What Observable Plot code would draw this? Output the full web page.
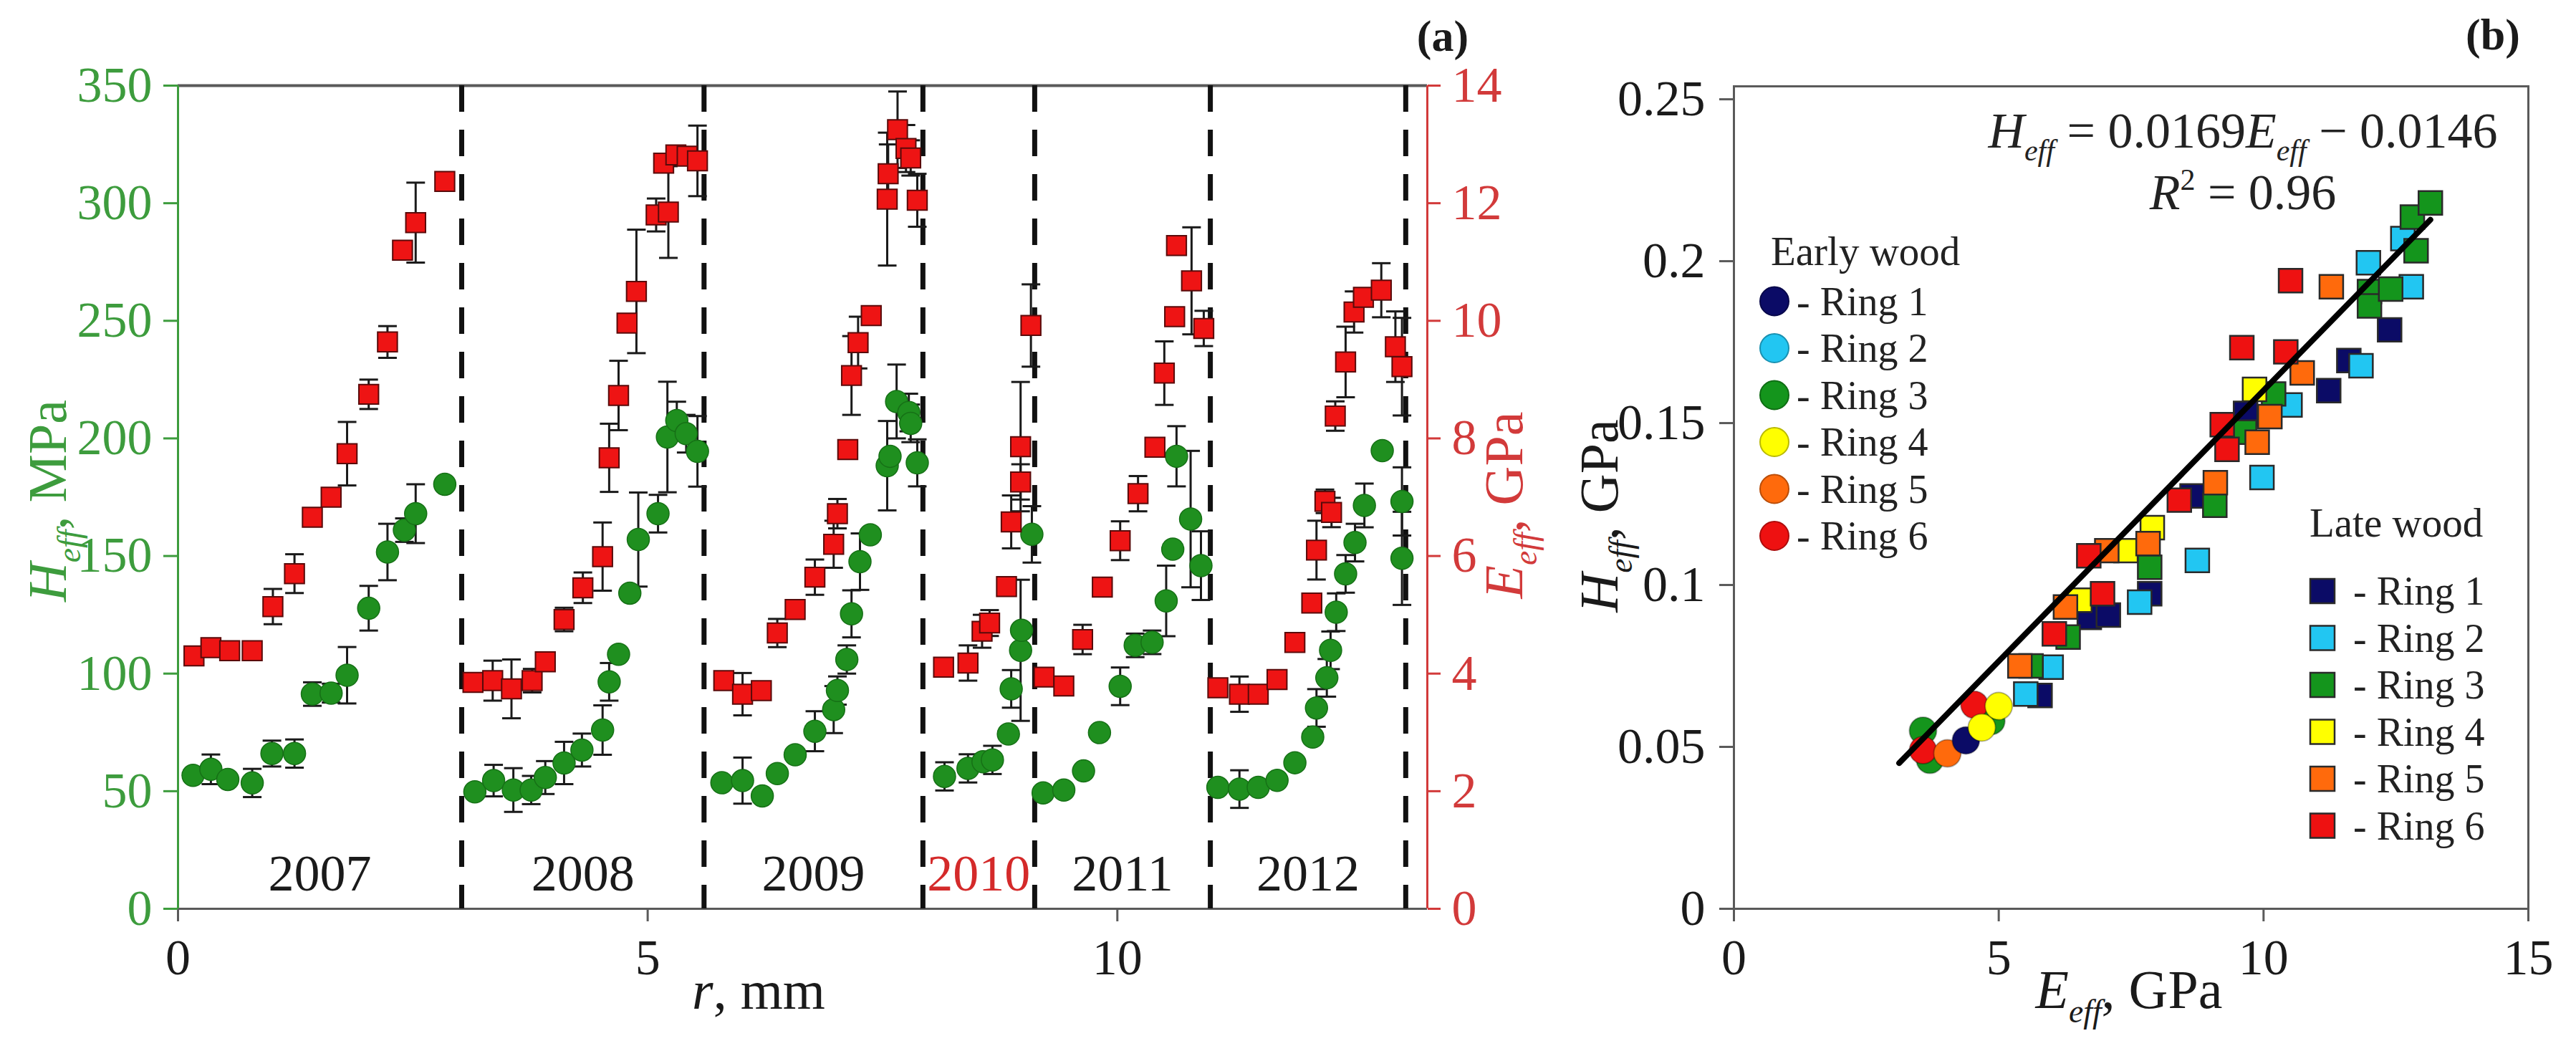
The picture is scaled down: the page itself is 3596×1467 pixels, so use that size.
<!DOCTYPE html>
<html><head><meta charset="utf-8">
<script src="https://cdn.jsdelivr.net/npm/d3@7"></script>
<script src="https://cdn.jsdelivr.net/npm/@observablehq/plot@0.6"></script>
<style>
html,body{margin:0;padding:0;background:#fff;}
#wrap{position:relative;width:3596px;height:1467px;overflow:hidden;background:#fff;}
</style></head><body><div id="wrap"></div>
<script>
// ---------------- Panel (a) data ----------------
// red squares: E_eff (GPa) vs r (mm)
const eR = [0.17,0.35,0.55,0.79,1.01,1.24,1.43,1.63,1.80,2.03,2.23,2.39,2.53,2.84,
 3.14,3.35,3.55,3.77,3.91,4.11,4.31,4.52,4.59,4.69,4.78,4.88,5.09,5.17,5.22,5.30,5.42,5.53,
 5.81,6.01,6.21,6.38,6.57,6.78,6.98,7.02,7.13,7.17,7.24,7.38,7.55,7.56,7.66,7.75,7.80,7.87,
 8.15,8.41,8.56,8.64,8.82,8.87,8.97,8.97,9.08,
 9.22,9.43,9.63,9.84,10.03,10.22,10.40,10.50,10.61,10.63,10.79,10.92,
 11.07,11.30,11.50,11.70,11.89,12.07,12.12,12.21,12.28,12.32,12.43,12.52,12.62,12.81,12.96,13.03];
const eVal = [4.30,4.44,4.39,4.39,5.14,5.70,6.66,7.00,7.74,8.75,9.64,11.20,11.67,12.37,
 3.85,3.88,3.74,3.88,4.20,4.92,5.46,5.99,7.67,8.73,9.96,10.50,11.80,12.68,11.85,12.82,12.80,12.72,
 3.88,3.65,3.71,4.69,5.09,5.64,6.20,6.72,7.81,9.07,9.63,10.09,12.07,12.50,13.25,12.93,12.77,12.05,
 4.11,4.18,4.72,4.86,5.48,6.58,7.26,7.86,9.92,
 3.94,3.79,4.58,5.47,6.26,7.06,7.85,9.11,10.07,11.28,10.68,9.87,
 3.76,3.65,3.65,3.90,4.53,5.20,6.10,6.93,6.74,8.38,9.30,10.15,10.40,10.52,9.56,9.22];
const eErr = [0,0,0,0,0.30,0.33,0,0,0.54,0.25,0.27,0,0.68,0,
 0,0.34,0.50,0.20,0,0.20,0.26,0.58,0.58,0.59,0,1.05,0.28,0,0.78,0,0,0.60,
 0,0.36,0,0.24,0,0.30,0.40,0.25,0,0.67,0.44,0,1.13,0.50,0.65,0.40,0.30,0.45,
 0,0.30,0.28,0.22,0,0.45,0.30,1.10,0.70,
 0,0,0.25,0,0.33,0.30,0,0.54,0,0,0.91,0.30,
 0,0.30,0,0,0,0,0.50,0.20,0.25,0.25,0.60,0.35,0,0.46,0.60,0.83];
// green circles: H_eff (MPa) vs r (mm)
const hR = [0.16,0.35,0.53,0.79,1.00,1.24,1.43,1.63,1.80,2.03,2.23,2.41,2.53,2.84,
 3.16,3.36,3.57,3.76,3.91,4.11,4.30,4.52,4.59,4.69,4.81,4.90,5.11,5.21,5.31,5.41,5.53,
 5.79,6.01,6.22,6.38,6.57,6.78,6.98,7.02,7.12,7.17,7.26,7.37,7.55,7.58,7.65,7.78,7.80,7.87,
 8.16,8.41,8.57,8.67,8.84,8.87,8.97,8.98,9.09,
 9.21,9.43,9.64,9.81,10.03,10.19,10.37,10.52,10.59,10.63,10.78,10.89,
 11.07,11.30,11.50,11.70,11.89,12.08,12.12,12.23,12.27,12.33,12.43,12.53,12.63,12.82,13.03,13.03];
const hVal = [56.7,59.3,55.0,53.5,66.0,66.0,91.3,91.7,99.3,127.8,151.7,161.0,168.0,180.5,
 49.7,54.5,50.5,50.5,55.8,62.0,67.5,76.0,96.5,108.2,134.2,157.0,168.0,200.6,207.6,202.0,194.5,
 53.6,54.5,48.0,57.5,65.5,75.5,84.7,92.8,106.0,125.4,147.6,159.0,188.4,192.4,215.7,211.0,206.4,189.6,
 56.3,59.7,62.5,63.3,74.3,93.5,109.9,118.4,159.2,
 49.3,50.5,58.6,74.9,94.6,112.0,113.3,130.9,152.9,192.4,165.7,145.9,
 51.6,50.9,51.6,54.6,62.1,73.0,85.4,98.2,109.9,126.1,142.4,155.7,171.5,194.8,173.2,149.0];
const hErr = [0,6.3,0,6,5.5,6,5,4,12,9.5,12,5,12.5,0,
 0,6.7,9.3,6,7,9,7,10.5,8,0,0,20,8,23.5,8,8,15,
 0,9.8,0,0,0,8.5,10,6,6,10,12,0,19,0,15.7,8,8,10,
 6,6,0,6,0,8,30,0,12,
 0,0,0,0,8,5,5,15,0,12.8,29,14.6,
 0,8,0,0,0,0,8,8,8,8,8,8,9.3,0,14.5,19.8];
const yearBounds = [0, 3.02, 5.60, 7.93, 9.12, 10.99, 13.07];
const years = ["2007","2008","2009","2010","2011","2012"];
const xDomainA = [0, 13.3];
const xTicksA = [0, 5, 10];
const hDomain = [0, 350];
const hTicks = [0, 50, 100, 150, 200, 250, 300, 350];
const eDomain = [0, 14];
const eTicks = [0, 2, 4, 6, 8, 10, 12, 14];

// ---------------- Panel (b) data ----------------
const rings = ["Ring 1","Ring 2","Ring 3","Ring 4","Ring 5","Ring 6"];
const ringColors = ["#0b0b66","#22c6f2","#14951c","#ffff00","#ff6a0c","#ee1111"];
// early wood (circles)
const earlyE = [3.70, 3.57, 3.57, 4.03, 4.38, 4.86, 4.54, 4.68, 5.00];
const earlyH = [0.046, 0.055, 0.049, 0.048, 0.052, 0.058, 0.063, 0.056, 0.0626];
const earlyRing = ["Ring 3","Ring 3","Ring 6","Ring 5","Ring 1","Ring 3","Ring 6","Ring 4","Ring 4"];
// late wood (squares)
const lateE = [5.78,6.71,7.07,7.85,8.65,9.66,11.23,11.61,12.38,
 5.51,5.99,7.66,8.75,9.97,10.50,11.84,11.98,12.63,12.79,
 5.61,6.31,7.85,9.08,9.64,10.19,12.00,12.00,12.40,12.88,12.81,13.15,
 6.53,7.40,7.90,9.83,
 5.40,6.26,7.04,7.82,9.09,9.88,10.12,10.73,11.28,
 6.05,6.70,6.96,8.41,9.22,9.31,9.59,10.42,10.51];
const lateH = [0.0659,0.0900,0.0907,0.0973,0.1275,0.1530,0.1600,0.1693,0.1788,
 0.0663,0.0746,0.0947,0.1076,0.1332,0.1556,0.1677,0.1995,0.2070,0.1921,
 0.0750,0.0839,0.1055,0.1246,0.1472,0.1590,0.1906,0.1862,0.1914,0.2032,0.2136,0.2180,
 0.0953,0.1106,0.1177,0.1604,
 0.0750,0.0932,0.1106,0.1128,0.1316,0.1441,0.1520,0.1655,0.1921,
 0.0849,0.1090,0.0973,0.1262,0.1495,0.1419,0.1733,0.1720,0.1940];
const lateRing = [].concat(Array(9).fill("Ring 1"), Array(10).fill("Ring 2"), Array(12).fill("Ring 3"),
 Array(4).fill("Ring 4"), Array(9).fill("Ring 5"), Array(9).fill("Ring 6"));
const fitE = [3.12, 13.15];
const fitH = [0.045, 0.2128];
const xDomainB = [0, 15];
const xTicksB = [0, 5, 10, 15];
const yDomainB = [0, 0.254];
const yTicksB = [0, 0.05, 0.1, 0.15, 0.2, 0.25];

// ---------------- build ----------------
const FONT = '"Liberation Serif", "Times New Roman", serif';
const GREEN_AX = "#3d9c3d", RED_AX = "#d23a3a", DARK = "#1a1a1a", FRAME = "#5a5a5a";
const wrap = document.getElementById("wrap");
function place(el, left) {
  el.style.position = "absolute"; el.style.left = left + "px"; el.style.top = "0px";
  wrap.appendChild(el);
}
const capSymbol = {draw(ctx, size) { const r = Math.sqrt(size / Math.PI); ctx.moveTo(-r, 0); ctx.lineTo(r, 0); }};
const redData = eR.map((r, i) => ({r, v: eVal[i], err: eErr[i]}));
const greenData = hR.map((r, i) => ({r, v: hVal[i], err: hErr[i]}));
const withErr = data => data.filter(d => d.err > 0);
const caps = data => withErr(data).flatMap(d => [{r: d.r, v: d.v - d.err}, {r: d.r, v: d.v + d.err}]);
const yearData = years.map((year, i) => ({year, mid: (yearBounds[i] + yearBounds[i + 1]) / 2}));
const styleA = {fontFamily: FONT, fontSize: "70px", background: "transparent", overflow: "visible", maxWidth: "none"};
const dimsA = {width: 2250, height: 1467, marginTop: 119, marginRight: 258, marginBottom: 199, marginLeft: 248};

const plotH = Plot.plot({
  ...dimsA, style: styleA,
  x: {domain: xDomainA}, y: {domain: hDomain},
  marks: [
    Plot.ruleY([hDomain[1]], {stroke: FRAME, strokeWidth: 4}),
    Plot.ruleY([hDomain[0]], {stroke: FRAME, strokeWidth: 3}),
    Plot.ruleX([xDomainA[0]], {stroke: GREEN_AX, strokeWidth: 3}),
    Plot.axisX({ticks: xTicksA, tickSize: 18, tickPadding: 24, strokeWidth: 3, stroke: FRAME, fill: DARK, label: null}),
    Plot.axisY({ticks: hTicks, tickSize: 20, tickPadding: 16, strokeWidth: 3, color: GREEN_AX, label: null}),
    Plot.ruleX(yearBounds.slice(1), {stroke: "#111", strokeWidth: 7, strokeDasharray: "37,25"}),
    Plot.text(yearData, {filter: d => d.year !== "2010", x: "mid", text: "year", frameAnchor: "bottom", dy: -49, lineAnchor: "middle", fontSize: 72, fill: DARK}),
    Plot.text(yearData, {filter: d => d.year === "2010", x: "mid", text: "year", frameAnchor: "bottom", dy: -49, lineAnchor: "middle", fontSize: 72, fill: "#d42a2a"}),
    Plot.ruleX(withErr(greenData), {x: "r", y1: d => d.v - d.err, y2: d => d.v + d.err, stroke: DARK, strokeWidth: 3}),
    Plot.dot(caps(greenData), {x: "r", y: "v", symbol: capSymbol, r: 13, fill: "none", stroke: DARK, strokeWidth: 3}),
    Plot.dot(greenData, {x: "r", y: "v", r: 15.5, fill: "#1f8f1f", stroke: "#167016", strokeWidth: 1.5})
  ]
});
place(plotH, 0);

const plotE = Plot.plot({
  ...dimsA, style: styleA,
  x: {domain: xDomainA, axis: null}, y: {domain: eDomain},
  marks: [
    Plot.ruleX([xDomainA[1]], {stroke: RED_AX, strokeWidth: 3}),
    Plot.axisY({anchor: "right", ticks: eTicks, tickSize: 18, tickPadding: 16, strokeWidth: 3, color: RED_AX, label: null}),
    Plot.ruleX(withErr(redData), {x: "r", y1: d => d.v - d.err, y2: d => d.v + d.err, stroke: DARK, strokeWidth: 3}),
    Plot.dot(caps(redData), {x: "r", y: "v", symbol: capSymbol, r: 13, fill: "none", stroke: DARK, strokeWidth: 3}),
    Plot.dot(redData, {x: "r", y: "v", symbol: "square", r: 15.5, fill: "#ee1414", stroke: "#5a0a0a", strokeWidth: 2})
  ]
});
place(plotE, 0);

const earlyData = earlyE.map((E, i) => ({E, H: earlyH[i], ring: earlyRing[i]}));
const lateData = lateE.map((E, i) => ({E, H: lateH[i], ring: lateRing[i]}));
const fitData = fitE.map((E, i) => ({E, H: fitH[i]}));
const plotB = Plot.plot({
  width: 1466, height: 1467, marginTop: 120, marginRight: 67, marginBottom: 199, marginLeft: 290,
  style: styleA,
  x: {domain: xDomainB}, y: {domain: yDomainB},
  color: {domain: rings, range: ringColors},
  marks: [
    Plot.frame({stroke: FRAME, strokeWidth: 3}),
    Plot.axisX({ticks: xTicksB, tickSize: 18, tickPadding: 24, strokeWidth: 3, stroke: FRAME, fill: DARK, label: null}),
    Plot.axisY({ticks: yTicksB, tickFormat: d => String(d), tickSize: 20, tickPadding: 20, strokeWidth: 3, stroke: FRAME, fill: DARK, label: null}),
    Plot.dot(earlyData, {x: "E", y: "H", fill: "ring", r: 19, stroke: "#000", strokeOpacity: 0.3, strokeWidth: 2}),
    Plot.dot(lateData, {x: "E", y: "H", fill: "ring", symbol: "square", r: 18.6, stroke: "#2a2a2a", strokeWidth: 2.5}),
    Plot.line(fitData, {x: "E", y: "H", stroke: "#000", strokeWidth: 8})
  ]
});
place(plotB, 2130);

// ---------------- titles, equation, legends ----------------
const ov = d3.create("svg").attr("width", 3596).attr("height", 1467)
  .style("font-family", FONT).style("pointer-events", "none");
function rich(x, y, parts, {size, fill = DARK, anchor = "middle", rotate = 0, weight = "normal"}) {
  const t = ov.append("text")
    .attr("transform", `translate(${x},${y})` + (rotate ? ` rotate(${rotate})` : ""))
    .attr("text-anchor", anchor).attr("font-size", size).attr("fill", fill)
    .attr("font-weight", weight).style("white-space", "pre");
  let shift = 0;
  for (const [s, o] of parts) {
    const ts = t.append("tspan").text(s);
    if (o.i) ts.attr("font-style", "italic");
    const target = o.sub ? 0.26 * size : o.sup ? -0.38 * size : 0;
    if (target !== shift) ts.attr("dy", target - shift);
    shift = target;
    if (o.sub || o.sup) ts.attr("font-size", size * 0.6);
  }
  return t;
}
const effLabel = (sym, unit) => [[sym, {i: 1}], ["eff", {i: 1, sub: 1}], [", " + unit, {}]];
rich(92, 699, effLabel("H", "MPa"), {size: 76, fill: GREEN_AX, rotate: -90});
rich(2125, 705, effLabel("E", "GPa"), {size: 76, fill: RED_AX, rotate: -90});
rich(2258, 720, effLabel("H", "GPa"), {size: 76, rotate: -90});
rich(1059, 1408, [["r", {i: 1}], [", mm", {}]], {size: 76});
rich(2972, 1407, effLabel("E", "GPa"), {size: 76});
rich(2014, 71, [["(a)", {}]], {size: 62, weight: "bold"});
rich(3480, 69, [["(b)", {}]], {size: 62, weight: "bold"});
rich(3131, 206, [["H", {i: 1}], ["eff", {i: 1, sub: 1}], [" = 0.0169", {}], ["E", {i: 1}], ["eff", {i: 1, sub: 1}], [" \u2212 0.0146", {}]], {size: 70, fill: "#222"});
rich(3131, 292, [["R", {i: 1}], ["2", {sup: 1}], [" = 0.96", {}]], {size: 70, fill: "#222"});

// early wood legend
rich(2472, 370, [["Early wood", {}]], {size: 57, anchor: "start", fill: "#222"});
rings.forEach((ring, i) => {
  const cy = 420.5 + i * 65.5;
  ov.append("circle").attr("cx", 2477).attr("cy", cy).attr("r", 20)
    .attr("fill", ringColors[i]).attr("stroke", d3.color(ringColors[i]).darker(0.9)).attr("stroke-width", 2);
  rich(2508, cy + 19, [["- " + ring, {}]], {size: 56, anchor: "start", fill: "#222"});
});
// late wood legend
rich(3224, 749, [["Late wood", {}]], {size: 57, anchor: "start", fill: "#222"});
rings.forEach((ring, i) => {
  const cy = 825 + i * 65.5;
  ov.append("rect").attr("x", 3242 - 17).attr("y", cy - 17).attr("width", 34).attr("height", 34)
    .attr("fill", ringColors[i]).attr("stroke", "#2a2a2a").attr("stroke-width", 2.5);
  rich(3285, cy + 19, [["- " + ring, {}]], {size: 56, anchor: "start", fill: "#222"});
});
place(ov.node(), 0);
</script></body></html>
